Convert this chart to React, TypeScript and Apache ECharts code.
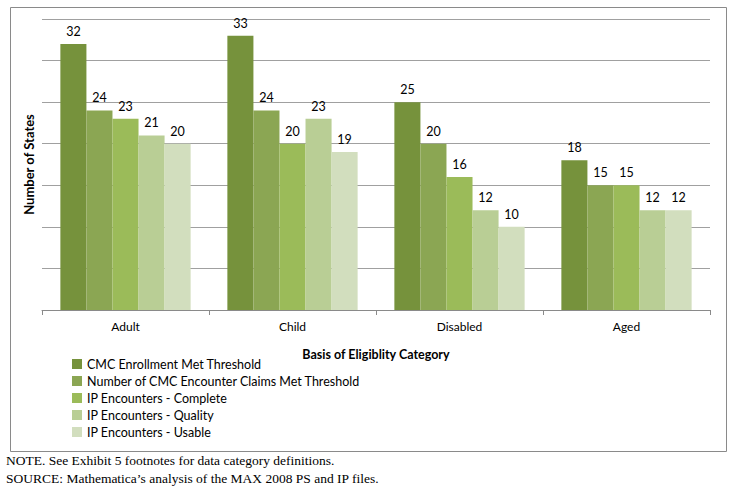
import React, { useEffect, useRef } from "react";
import * as echarts from "echarts";

const categories = ["Adult", "Child", "Disabled", "Aged"];
const seriesNames = [
  "CMC Enrollment Met Threshold",
  "Number of CMC Encounter Claims Met Threshold",
  "IP Encounters - Complete",
  "IP Encounters - Quality",
  "IP Encounters - Usable",
];
const enrollment = [32, 33, 25, 18];
const encounterClaims = [24, 24, 20, 15];
const ipComplete = [23, 20, 16, 15];
const ipQuality = [21, 23, 12, 12];
const ipUsable = [20, 19, 10, 12];
const seriesValues = [enrollment, encounterClaims, ipComplete, ipQuality, ipUsable];
const colors = ["#76923C", "#8BA653", "#9BBB59", "#B9CE95", "#D2DEBE"];
const noteLines = [
  "NOTE. See Exhibit 5 footnotes for data category definitions.",
  "SOURCE: Mathematica\u2019s analysis of the MAX 2008 PS and IP files.",
];

const sansFont = "Lato, 'Open Sans', sans-serif";
const serifFont = "'Liberation Serif', 'DejaVu Serif', serif";

export default function App() {
  const ref = useRef<HTMLDivElement>(null);
  useEffect(() => {
    if (!ref.current) return;
    const chart = echarts.init(ref.current, null, { renderer: "svg" });
    chart.setOption({
      animation: false,
      backgroundColor: "#ffffff",
      textStyle: { fontFamily: sansFont },
      grid: { left: 42, right: 21, top: 19, bottom: 178 },
      legend: {
        orient: "vertical",
        left: 72,
        top: 357,
        padding: 0,
        itemWidth: 10,
        itemHeight: 10,
        itemGap: 3,
        icon: "rect",
        textStyle: { fontSize: 12.5, color: "#000", fontFamily: sansFont, lineHeight: 14 },
        data: seriesNames,
      },
      xAxis: {
        type: "category",
        data: categories,
        name: "Basis of Eligiblity Category",
        nameLocation: "middle",
        nameGap: 38,
        nameTextStyle: { fontSize: 12.5, fontWeight: "bold", color: "#000", fontFamily: sansFont },
        axisLine: { show: true, lineStyle: { color: "#8a8a8a", width: 1 } },
        axisTick: { show: true, length: 5, lineStyle: { color: "#8a8a8a" } },
        axisLabel: { fontSize: 12, color: "#000", margin: 10, fontFamily: sansFont },
      },
      yAxis: {
        type: "value",
        min: 0,
        max: 35,
        interval: 5,
        name: "Number of States",
        nameLocation: "middle",
        nameGap: 7,
        nameRotate: 90,
        nameTextStyle: { fontSize: 13, fontWeight: "bold", color: "#000", fontFamily: sansFont },
        axisLabel: { show: false },
        axisLine: { show: false },
        axisTick: { show: false },
        splitLine: { show: true, lineStyle: { color: "#a0a0a0", width: 1 } },
      },
      series: seriesValues.map((vals, i) => ({
        name: seriesNames[i],
        type: "bar",
        data: vals,
        barGap: "0%",
        barCategoryGap: "22%",
        itemStyle: { color: colors[i] },
        label: {
          show: true,
          position: "top",
          distance: 6,
          fontSize: 12.5,
          color: "#000",
          fontFamily: sansFont,
        },
      })),
      graphic: [
        {
          type: "rect",
          left: 8,
          top: 5,
          shape: { x: 0, y: 0, width: 716, height: 444 },
          style: { fill: "none", stroke: "#8a8a8a", lineWidth: 1 },
          silent: true,
          z: -1,
        },
        ...noteLines.map((t, i) => ({
          type: "text",
          left: 6,
          top: 453 + i * 18,
          style: { text: t, font: `13.5px ${serifFont}`, fill: "#000" },
        })),
      ],
    });
    return () => chart.dispose();
  }, []);
  return (
    <div
      ref={ref}
      style={{ position: "fixed", left: 0, top: 0, width: 731, height: 488 }}
    />
  );
}
